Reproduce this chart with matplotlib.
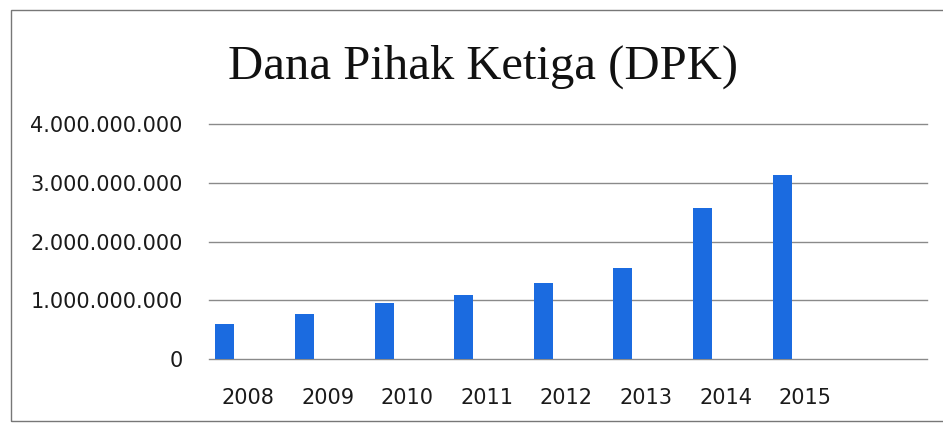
import matplotlib.pyplot as plt
from matplotlib.ticker import FuncFormatter
from matplotlib.patches import Rectangle

tahun = ["2008", "2009", "2010", "2011", "2012", "2013", "2014", "2015"]
dpk = [600000000, 760000000, 950000000, 1090000000, 1290000000, 1550000000, 2570000000, 3130000000]
yticks = [0, 1000000000, 2000000000, 3000000000, 4000000000]

fig = plt.figure(figsize=(9.43, 4.24), dpi=100)
ax = fig.add_axes([0.2216, 0.1533, 0.7614, 0.5542])

x = list(range(len(tahun)))
ax.bar(x, dpk, width=0.24, color="#1b6be0", zorder=2)

ax.set_ylim(0, 4000000000)
ax.set_xlim(-0.2, 8.82)
ax.set_yticks(yticks)
ax.yaxis.set_major_formatter(FuncFormatter(lambda v, p: f"{v:,.0f}".replace(",", ".")))
ax.set_xticks([i + 0.29 for i in x])
ax.set_xticklabels(tahun)

ax.grid(axis="y", color="#8a8a8a", linewidth=1.0, zorder=1)
for gl in ax.get_ygridlines():
    gl.set_clip_on(False)
ax.set_axisbelow(True)
for s in ax.spines.values():
    s.set_visible(False)
ax.tick_params(axis="both", length=0, labelsize=15, colors="#1a1a1a")
ax.tick_params(axis="y", pad=19)
ax.tick_params(axis="x", pad=21)

fig.text(0.512, 0.842, "Dana Pihak Ketiga (DPK)", family="Liberation Serif",
         fontsize=35, ha="center", va="center", color="#111111")

# bingkai
fig.patches.append(Rectangle((11 / 943, 3 / 424), 940 / 943, 411 / 424, transform=fig.transFigure,
                             fill=False, edgecolor="#777777", linewidth=1.0))

fig.savefig("out.png", dpi=100)
